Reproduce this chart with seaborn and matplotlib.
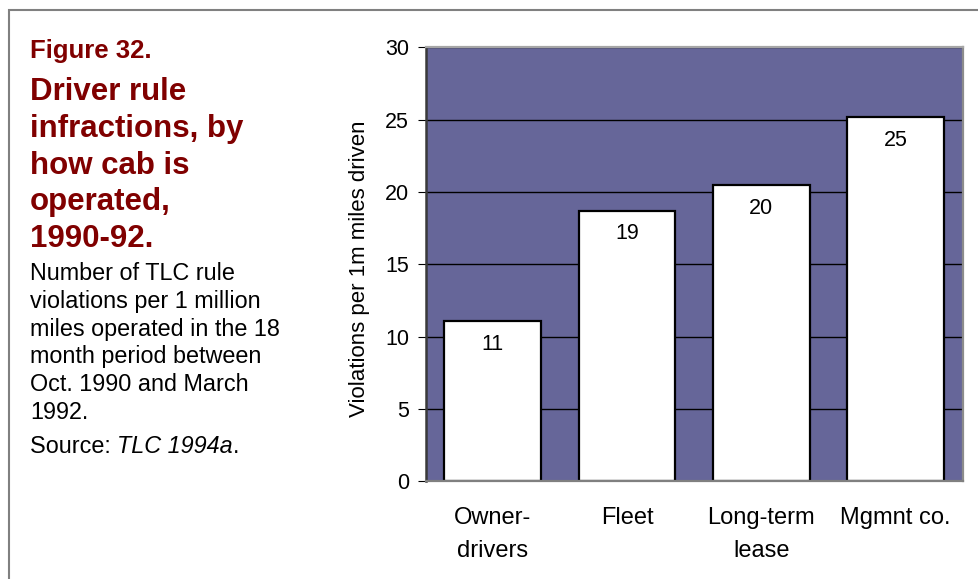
import matplotlib
matplotlib.use("Agg")
import matplotlib.pyplot as plt
import seaborn as sns
import pandas as pd
from matplotlib.patches import Rectangle

# Chart data
categories = ["Owner-\ndrivers", "Fleet", "Long-term\nlease", "Mgmnt co."]
violations = [11.05, 18.7, 20.45, 25.15]
y_ticks = [0, 5, 10, 15, 20, 25, 30]

# Side panel text
figure_label = "Figure 32."
title_lines = ["Driver rule", "infractions, by", "how cab is", "operated,", "1990-92."]
note_lines = ["Number of TLC rule", "violations per 1 million",
              "miles operated in the 18", "month period between",
              "Oct. 1990 and March", "1992."]
source_prefix = "Source: "
source_ref = "TLC 1994a"
y_label = "Violations per 1m miles driven"

sns.set_style("ticks")
plt.rcParams["font.family"] = ["Liberation Sans", "DejaVu Sans"]

W, H = 979, 579
DPI = 100
fig = plt.figure(figsize=(W / DPI, H / DPI), dpi=DPI)
fig.patch.set_facecolor("white")


def fx(px):
    return px / W


def fy(py):
    return 1 - py / H


# Plot area
left, top, right, bottom = 425.7, 47.3, 962.7, 481.3
ax = fig.add_axes([fx(left), fy(bottom), (right - left) / W, (bottom - top) / H])
ax.set_facecolor("#666699")

df = pd.DataFrame({"category": categories, "violations": violations})
sns.barplot(data=df, x="category", y="violations", color="white",
            saturation=1, edgecolor="black", linewidth=1.6, width=0.72,
            ax=ax, zorder=3)

ax.set_xlim(-0.5, len(categories) - 0.5)
ax.set_ylim(0, 30)
ax.set_yticks(y_ticks)
ax.set_yticklabels([str(t) for t in y_ticks])
ax.set_axisbelow(True)
ax.yaxis.grid(True, color="black", linewidth=1.0)
ax.xaxis.grid(False)

ax.set_xlabel("")
ax.set_ylabel("")

ax.tick_params(axis="y", direction="out", length=5.5, width=0.8,
               color="black", pad=6.5, labelsize=15.5, labelcolor="black")
ax.tick_params(axis="x", length=0, pad=18.5, labelsize=17, labelcolor="black")
for lab in ax.get_xticklabels():
    lab.set_linespacing(1.62)

for side in ["top", "right", "bottom", "left"]:
    ax.spines[side].set_visible(True)
    ax.spines[side].set_zorder(5)
ax.spines["top"].set_color("#a6a6a6")
ax.spines["top"].set_linewidth(1.6)
ax.spines["right"].set_color("#8c8c8c")
ax.spines["right"].set_linewidth(1.6)
ax.spines["bottom"].set_color("#808080")
ax.spines["bottom"].set_linewidth(1.6)
ax.spines["left"].set_color("#3a3a3a")
ax.spines["left"].set_linewidth(1.8)

# Value labels inside the bars
for i, v in enumerate(violations):
    ax.annotate(f"{v:.0f}", (i, v), xytext=(0, -9), textcoords="offset points",
                ha="center", va="top", fontsize=15.5, color="black", zorder=6)

fig.text(fx(360), fy(269), y_label, rotation=90, ha="center", va="center",
         fontsize=16, color="black")

# Side panel
maroon = "#800000"
fig.text(fx(30), fy(58.3), figure_label, ha="left", va="baseline",
         fontsize=18.5, fontweight="bold", color=maroon)
for k, line in enumerate(title_lines):
    fig.text(fx(30), fy(100 + 36.75 * k), line, ha="left", va="baseline",
             fontsize=22.5, fontweight="bold", color=maroon)
body_size = 16.8
for k, line in enumerate(note_lines):
    fig.text(fx(30), fy(280 + 27.8 * k), line, ha="left", va="baseline",
             fontsize=body_size, color="black")
src = fig.text(fx(30), fy(452.7), source_prefix, ha="left", va="baseline",
               fontsize=body_size, color="black")
ref = fig.text(0, 0, source_ref, fontsize=body_size, fontstyle="italic",
               color="black", ha="left", va="baseline")
fig.canvas.draw()
renderer = fig.canvas.get_renderer()
bb = src.get_window_extent(renderer)
ref.set_position((bb.x1 / W, fy(452.7)))
bb2 = ref.get_window_extent(renderer)
fig.text(bb2.x1 / W, fy(452.7), ".", ha="left", va="baseline",
         fontsize=body_size, color="black")

# Outer frame (top and left edges visible)
fig.patches.append(Rectangle((fx(9), -0.2), 1.5, fy(10) + 0.2, fill=False,
                             edgecolor="#808080", linewidth=1.5,
                             transform=fig.transFigure, figure=fig))

fig.savefig("out.png", dpi=DPI, facecolor="white")
